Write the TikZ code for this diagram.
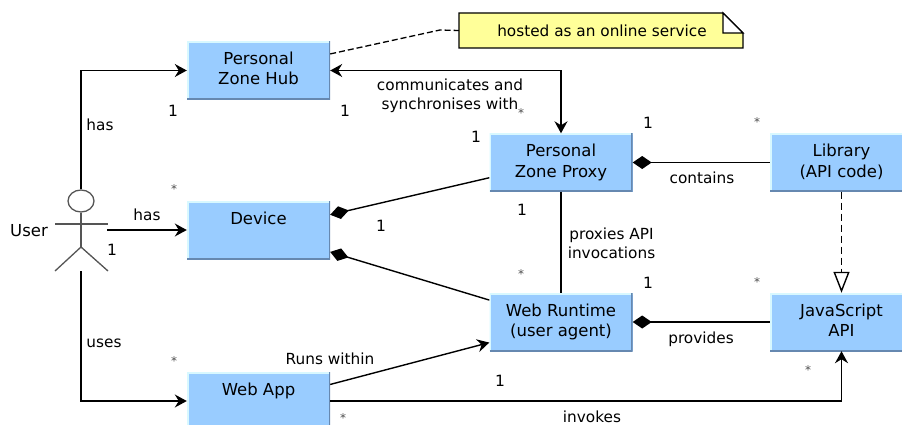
\documentclass[tikz,border=0pt]{standalone}
\usepackage{fontspec}
\setmainfont{DejaVu Sans}
\usetikzlibrary{arrows.meta,shapes.geometric}
\definecolor{boxblue}{HTML}{99CCFF}
\definecolor{boxdark}{HTML}{6688B0}
\definecolor{boxlight}{HTML}{D8F8FF}
\definecolor{noteyellow}{HTML}{FFFF99}
\definecolor{actorgrey}{HTML}{555555}
\tikzset{
  classbox/.style={rectangle,fill=boxblue,minimum width=143pt,minimum height=58pt,inner sep=0pt,
    align=center,text height=12pt,text depth=23pt,font=\fontsize{16.5}{20.5}\selectfont,
    path picture={
      \draw[boxlight,line width=3pt] (path picture bounding box.south west) -- (path picture bounding box.north west) -- (path picture bounding box.north east);
      \draw[boxdark,line width=3pt] (path picture bounding box.north east) -- (path picture bounding box.south east) -- (path picture bounding box.south west);
    }},
  classboxtwo/.style={classbox,text height=32pt,text depth=3pt},
  assoc/.style={line width=1.4pt,-{Stealth[length=12pt,width=13pt,inset=4pt]}},
  twoway/.style={line width=1.4pt,{Stealth[length=12pt,width=13pt,inset=4pt]}-{Stealth[length=12pt,width=13pt,inset=4pt]}},
  compos/.style={line width=1.4pt,{Diamond[length=19pt,width=13pt]}-},
  plainline/.style={line width=1.4pt},
  realizes/.style={line width=1.4pt,dash pattern=on 7pt off 4pt,-{Triangle[open,fill=white,length=21pt,width=16pt]}},
  lbl/.style={inner sep=0pt,align=center,font=\fontsize{15.3}{19}\selectfont},
  mult/.style={inner sep=0pt,font=\fontsize{15.5}{15.5}\selectfont},
  star/.style={inner sep=0pt,text=black!70,font=\fontsize{12}{12}\selectfont},
  limb/.style={actorgrey,line width=1.3pt}
}
\begin{document}
\begin{tikzpicture}[x=1pt,y=-1pt]
\useasboundingbox (0,0) rectangle (902,425);

% Classes
\node[classboxtwo] (hub) at (258.5,70.5) {Personal\\Zone Hub};
\node[classbox] (device) at (258.5,230) {Device};
\node[classbox] (webapp) at (258.5,401) {Web App};
\node[classboxtwo] (proxy) at (561,162.5) {Personal\\Zone Proxy};
\node[classboxtwo] (runtime) at (561,322) {Web Runtime\\(user agent)};
\node[classboxtwo] (library) at (841.5,162.5) {Library\\(API code)};
\node[classboxtwo] (jsapi) at (841.5,322) {JavaScript\\API};

% Note
\draw[line width=1.3pt,fill=noteyellow] (459,13) -- (723,13) -- (743,33) -- (743,48) -- (459,48) -- cycle;
\draw[line width=1.3pt,fill=white] (723,13) -- (743,33) -- (723,33) -- cycle;
\node[lbl,minimum width=284pt,minimum height=35pt] (note) at (601,30.5) {\hspace{2pt}hosted as an online service};
\coordinate (noteBend) at (440,30);
\draw[line width=1.3pt,dash pattern=on 6pt off 3pt] (hub.13) -- (noteBend) -- (note.west);

% Actor
\node[ellipse,draw=actorgrey,line width=1.3pt,minimum width=26pt,minimum height=22pt,inner sep=0pt] (userHead) at (81,201) {};
\coordinate (hip) at (81,247);
\coordinate (armL) at (55,224);
\coordinate (armR) at (108,224);
\coordinate (legL) at (55,271);
\coordinate (legR) at (108,271);
\coordinate (userFoot) at (81,271);
\coordinate (userHand) at (107,230);
\draw[limb] (userHead.south) -- (hip);
\draw[limb] (armL) -- (armR);
\draw[limb] (legL) -- (hip) -- (legR);
\node[lbl,font=\fontsize{16.5}{19}\selectfont] (userName) at (29,231) {User};

% Connectors
\draw[assoc] (userHead.north) |- (hub.west);
\draw[assoc] (userHand) -- (device.west);
\draw[assoc] (userFoot) |- (webapp.west);
\draw[twoway] (hub.east) -| (proxy.north);
\draw[compos] (device.12.6) -- (proxy.192);
\draw[compos] (device.-17) -- (runtime.163.5);
\draw[compos] (proxy.east) -- (library.west);
\draw[compos] (runtime.east) -- (jsapi.west);
\draw[plainline] (proxy.south) -- (runtime.north);
\draw[realizes] (library.south) -- (jsapi.north);
\draw[assoc] (webapp.13.4) -- (runtime.196.5);
\draw[assoc] (webapp.east) -| (jsapi.south);

% Labels
\node[lbl] (hasHub) at (100,125) {has};
\node[lbl] (hasDevice) at (147,215) {has};
\node[lbl] (usesApp) at (104,343) {uses};
\node[lbl] (commLbl) at (450,95.5) {communicates and\\synchronises with};
\node[lbl] (containsLbl) at (702,178) {contains};
\node[lbl] (proxiesLbl) at (611.5,243.5) {proxies API\\invocations};
\node[lbl] (providesLbl) at (701,339) {provides};
\node[lbl] (runsLbl) at (330,359) {Runs within};
\node[lbl] (invokesLbl) at (592,416.5) {invokes};

% Multiplicities
\foreach \pos [count=\i] in {(173,111),(345,111),(476,137),(648,123),(522,210),(112,250),(381,226),(648,283),(500,381)}
  \node[mult] (one\i) at \pos {1};
\foreach \pos [count=\i] in {(521,113),(757,122),(174,189),(521,274),(757,282),(808,370),(174,361),(343,418)}
  \node[star] (many\i) at \pos {*};
\end{tikzpicture}
\end{document}
